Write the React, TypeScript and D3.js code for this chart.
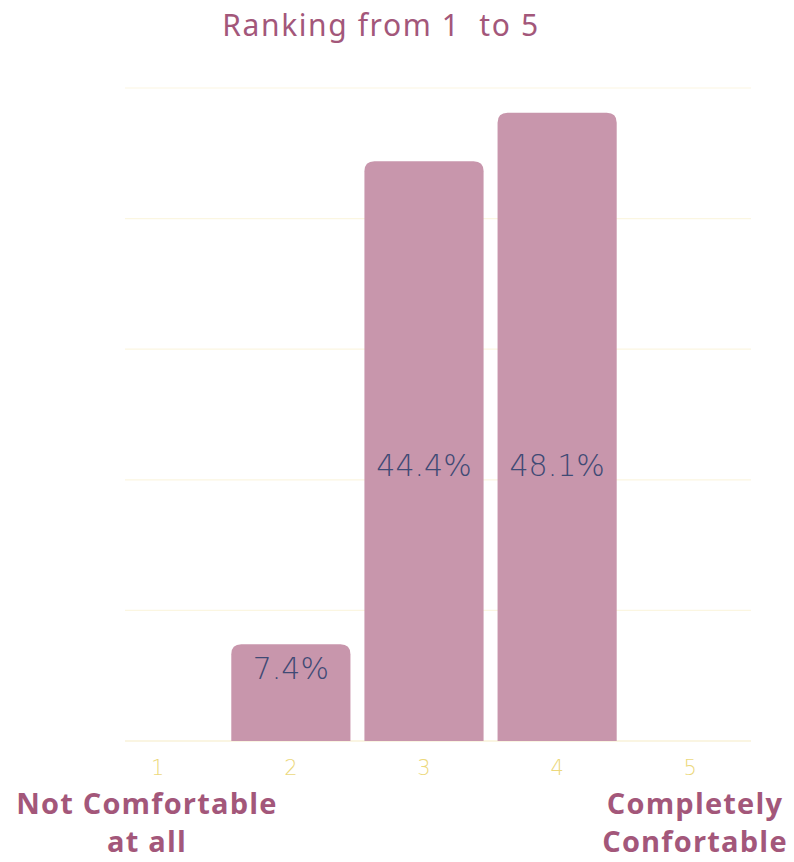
import React from "react";
import * as d3 from "d3";

const CATEGORIES = ["1", "2", "3", "4", "5"];
const VALUES = [0, 7.4, 44.4, 48.1, 0];
const Y_TICKS = [0, 10, 20, 30, 40, 50];
const TITLE = "Ranking from 1\u00a0 to 5";
const LEFT_LABEL = ["Not Comfortable", "at all"];
const RIGHT_LABEL = ["Completely", "Confortable"];

const W = 794;
const H = 862;
const BAR = "#c896ac";
const PINK = "#a3577a";
const NAVY = "#3f4a75";
const TICK = "#ecd87c";

function topRounded(x: number, y: number, w: number, h: number, r: number) {
  const rr = Math.min(r, h, w / 2);
  return `M${x},${y + h}V${y + rr}Q${x},${y} ${x + rr},${y}H${x + w - rr}Q${x + w},${y} ${x + w},${y + rr}V${y + h}Z`;
}

export default function App() {
  const x = d3.scaleBand<string>().domain(CATEGORIES).range([91.5, 756.5]).paddingInner(0.105).paddingOuter(0.05);
  const y = d3.scaleLinear().domain([0, 50]).range([741, 88]);
  const labelCap = 22.9;

  return (
    <div style={{ position: "absolute", left: 0, top: 0 }}>
      <svg width={W} height={H} style={{ display: "block" }} fontFamily="'DejaVu Sans', sans-serif">
        <text x={381} y={36} textAnchor="middle" fontSize={30} fill={PINK} fontFamily="'Noto Sans', sans-serif" letterSpacing={1.6}>
          {TITLE}
        </text>
        {Y_TICKS.map((t) => (
          <line key={t} x1={125} x2={751} y1={y(t)} y2={y(t)} stroke={t === 0 ? "#f6ecc6" : "#fbf6e1"} strokeWidth={1.2} />
        ))}
        {CATEGORIES.map((c, i) => {
          const v = VALUES[i];
          const bx = x(c)!;
          const bw = x.bandwidth();
          const cx = bx + bw / 2;
          return (
            <g key={c}>
              {v > 0 && (
                <>
                  <path d={topRounded(bx, y(v), bw, y(0) - y(v), 10)} fill={BAR} />
                  <text x={cx} y={y(Math.min(v, labelCap)) + 24} dy="0.35em" textAnchor="middle" fontSize={30} fill={NAVY} fontFamily="'DejaVu Sans', sans-serif" fontWeight={300}>
                    {`${v}%`}
                  </text>
                </>
              )}
              <text x={cx} y={775} textAnchor="middle" fontSize={21} fill={TICK} fontFamily="'DejaVu Sans', sans-serif" fontWeight={300}>
                {c}
              </text>
            </g>
          );
        })}
        {LEFT_LABEL.map((s, i) => (
          <text key={s} x={147} y={814 + i * 38} textAnchor="middle" fontSize={29} fontWeight={700} fill={PINK} fontFamily="'Open Sans', sans-serif" letterSpacing={1.2}>
            {s}
          </text>
        ))}
        {RIGHT_LABEL.map((s, i) => (
          <text key={s} x={695} y={814 + i * 38} textAnchor="middle" fontSize={29} fontWeight={700} fill={PINK} fontFamily="'Open Sans', sans-serif" letterSpacing={1.2}>
            {s}
          </text>
        ))}
      </svg>
    </div>
  );
}
